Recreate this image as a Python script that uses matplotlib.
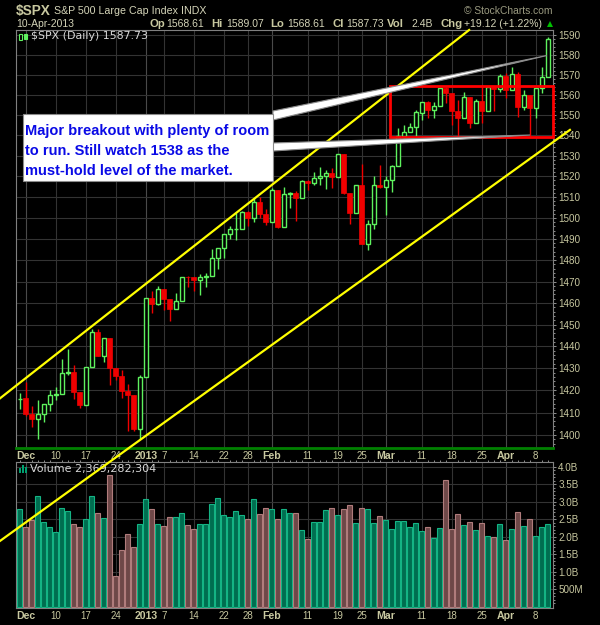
import matplotlib
matplotlib.use("Agg")
import matplotlib.pyplot as plt
import numpy as np
from matplotlib.patches import Rectangle, Polygon
from matplotlib.lines import Line2D
from matplotlib.ticker import FixedLocator, FuncFormatter, NullFormatter

# S&P 500 daily bars, 30-Nov-2012 .. 10-Apr-2013
dates = ["11-30",
         "12-03", "12-04", "12-05", "12-06", "12-07", "12-10", "12-11", "12-12", "12-13", "12-14",
         "12-17", "12-18", "12-19", "12-20", "12-21", "12-24", "12-26", "12-27", "12-28", "12-31",
         "01-02", "01-03", "01-04", "01-07", "01-08", "01-09", "01-10", "01-11", "01-14", "01-15",
         "01-16", "01-17", "01-18", "01-22", "01-23", "01-24", "01-25", "01-28", "01-29", "01-30",
         "01-31",
         "02-01", "02-04", "02-05", "02-06", "02-07", "02-08", "02-11", "02-12", "02-13", "02-14",
         "02-15", "02-19", "02-20", "02-21", "02-22", "02-25", "02-26", "02-27", "02-28",
         "03-01", "03-04", "03-05", "03-06", "03-07", "03-08", "03-11", "03-12", "03-13", "03-14",
         "03-15", "03-18", "03-19", "03-20", "03-21", "03-22", "03-25", "03-26", "03-27", "03-28",
         "04-01", "04-02", "04-03", "04-04", "04-05", "04-08", "04-09", "04-10"]

opens = [1415.95,
         1416.34, 1409.46, 1407.05, 1409.43, 1413.95, 1418.07, 1418.55, 1427.84, 1428.48, 1419.45,
         1413.54, 1430.47, 1446.79, 1435.81, 1443.67, 1430.15, 1426.66, 1419.83, 1418.10, 1402.43,
         1426.19, 1462.42, 1459.37, 1466.47, 1461.89, 1457.15, 1461.02, 1472.12, 1472.05, 1470.67,
         1472.33, 1472.63, 1480.95, 1485.98, 1492.56, 1494.81, 1494.82, 1502.96, 1500.18, 1507.84,
         1501.96,
         1498.11, 1513.17, 1495.71, 1511.29, 1512.12, 1509.39, 1517.93, 1517.01, 1519.43, 1520.33,
         1521.38, 1519.79, 1530.94, 1511.95, 1502.42, 1515.60, 1487.85, 1496.94, 1515.99,
         1514.68, 1518.20, 1525.20, 1539.79, 1541.46, 1544.26, 1551.15, 1556.22, 1552.48, 1554.52,
         1563.21, 1560.70, 1552.10, 1548.34, 1558.71, 1545.90, 1556.89, 1551.69, 1563.75, 1562.86,
         1569.18, 1562.17, 1570.25, 1553.69, 1559.98, 1553.26, 1563.11, 1568.61]
highs = [1418.86,
         1423.73, 1413.14, 1415.56, 1413.95, 1420.34, 1421.64, 1434.27, 1438.59, 1431.36, 1419.45,
         1430.67, 1448.00, 1447.75, 1443.70, 1443.67, 1430.15, 1429.42, 1422.80, 1418.10, 1426.74,
         1462.43, 1465.47, 1467.94, 1466.47, 1461.89, 1464.73, 1472.30, 1472.75, 1472.05, 1473.31,
         1473.96, 1485.16, 1485.98, 1492.56, 1496.13, 1502.27, 1503.26, 1503.23, 1509.35, 1509.94,
         1504.19,
         1514.41, 1513.17, 1514.96, 1512.53, 1512.90, 1518.31, 1518.31, 1522.29, 1524.69, 1523.14,
         1524.24, 1530.94, 1530.94, 1511.95, 1515.64, 1525.84, 1498.99, 1520.08, 1525.34,
         1519.99, 1525.27, 1543.47, 1545.25, 1545.78, 1552.48, 1556.27, 1556.77, 1556.39, 1563.32,
         1563.62, 1560.70, 1557.25, 1561.56, 1558.71, 1557.74, 1564.91, 1563.95, 1564.07, 1570.28,
         1570.57, 1573.66, 1571.47, 1562.29, 1559.98, 1563.07, 1573.89, 1589.07]
lows = [1411.63,
        1408.46, 1403.65, 1398.23, 1405.93, 1410.90, 1415.64, 1418.55, 1426.76, 1416.00, 1411.88,
        1413.54, 1430.47, 1435.80, 1432.82, 1422.58, 1424.66, 1416.43, 1401.80, 1401.58, 1398.11,
        1426.19, 1455.53, 1458.99, 1456.62, 1451.64, 1457.15, 1461.02, 1467.58, 1465.69, 1463.76,
        1467.60, 1472.63, 1475.81, 1481.16, 1489.90, 1489.46, 1494.82, 1496.33, 1498.09, 1500.11,
        1496.76,
        1498.11, 1495.02, 1495.71, 1504.71, 1498.49, 1509.39, 1513.61, 1515.61, 1515.93, 1514.02,
        1514.14, 1519.79, 1511.41, 1497.29, 1502.42, 1487.85, 1485.01, 1494.88, 1514.46,
        1501.48, 1512.29, 1525.20, 1538.11, 1541.46, 1539.63, 1547.36, 1548.24, 1548.25, 1554.52,
        1555.74, 1545.13, 1538.57, 1548.34, 1543.55, 1545.90, 1546.22, 1551.69, 1551.90, 1561.08,
        1558.47, 1562.17, 1549.07, 1552.52, 1539.50, 1548.63, 1560.92, 1568.61]
closes = [1416.18,
          1409.46, 1407.05, 1409.28, 1413.94, 1418.07, 1418.55, 1427.84, 1428.48, 1419.45, 1413.58,
          1430.36, 1446.79, 1435.81, 1443.69, 1430.15, 1426.66, 1419.83, 1418.10, 1402.43, 1426.19,
          1462.42, 1459.37, 1466.47, 1461.89, 1457.15, 1461.02, 1472.12, 1472.05, 1470.68, 1472.34,
          1472.63, 1480.94, 1485.98, 1492.56, 1494.81, 1494.82, 1502.96, 1500.18, 1507.84, 1501.96,
          1498.11,
          1513.17, 1495.71, 1511.29, 1512.12, 1509.39, 1517.93, 1517.01, 1519.43, 1520.33, 1521.38,
          1519.79, 1530.94, 1511.95, 1502.42, 1515.60, 1487.85, 1496.94, 1515.99, 1514.68,
          1518.20, 1525.20, 1539.79, 1541.46, 1544.26, 1551.18, 1556.22, 1552.48, 1554.52, 1563.23,
          1560.70, 1552.10, 1548.34, 1558.71, 1545.80, 1556.89, 1551.69, 1563.77, 1562.85, 1569.19,
          1562.17, 1570.25, 1553.69, 1559.98, 1553.28, 1563.07, 1568.61, 1587.73]
prev_close = 1415.95  # 29-Nov-2012

# volume, billions of shares
volumes = [2.79,
           2.27, 2.48, 3.17, 2.42, 2.27, 2.14, 2.81, 2.73, 2.38, 2.27,
           2.50, 3.17, 2.68, 2.53, 3.77, 0.88, 1.62, 2.08, 1.70, 2.37,
           3.07, 2.79, 2.38, 2.31, 2.56, 2.56, 2.67, 2.33, 2.21, 2.37,
           2.38, 2.94, 3.10, 2.62, 2.56, 2.73, 2.62, 2.50, 3.07, 2.65,
           2.81,
           2.79, 2.50, 2.79, 2.67, 2.67, 2.20, 1.94, 2.42, 2.42, 2.77,
           2.81, 2.62, 2.79, 2.91, 2.39, 2.81, 2.79, 2.39, 2.59,
           2.48, 2.23, 2.45, 2.45, 2.28, 2.39, 2.18, 2.28, 1.97, 2.25,
           3.62, 2.23, 2.65, 2.33, 2.42, 2.20, 2.39, 2.02, 1.99, 2.37,
           1.91, 2.23, 2.71, 2.31, 2.50, 2.02, 2.28, 2.37]

tick_dates = ["12-03", "12-10", "12-17", "12-24", "01-02", "01-07", "01-14", "01-22", "01-28",
              "02-01", "02-11", "02-19", "02-25", "03-01", "03-11", "03-18", "03-25", "04-01", "04-08"]
tick_labels = ["Dec", "10", "17", "24", "2013", "7", "14", "22", "28",
               "Feb", "11", "19", "25", "Mar", "11", "18", "25", "Apr", "8"]
month_labels = ["Dec", "2013", "Feb", "Mar", "Apr"]

price_ticks = list(range(1400, 1600, 10))
vol_ticks = [0.5, 1.0, 1.5, 2.0, 2.5, 3.0, 3.5, 4.0]
vol_tick_labels = ["500M", "1.0B", "1.5B", "2.0B", "2.5B", "3.0B", "3.5B", "4.0B"]

# hand-drawn annotations (date index, price)
upper_channel = ([-3.28, 74.9], [1416.4, 1592.4])
lower_channel = ([-3.28, 91.7], [1353.6, 1542.6])
range_box = (61.7, 88.8, 1539.3, 1564.5)
note = "Major breakout with plenty of room\nto run. Still watch 1538 as the\nmust-hold level of the market."

TAN = "#c8c8a0"
UP = "#5ef25e"
DOWN = "#f00000"
FONT = "Liberation Sans"

W, H = 600, 625
fig = plt.figure(figsize=(W / 100, H / 100), dpi=100, facecolor="black")


def fx(px):
    return px / W


def fy(py):
    return 1 - py / H


L, R = 16, 553
ax = fig.add_axes([fx(L), fy(448), (R - L) / W, (448 - 30) / H])
axv = fig.add_axes([fx(L), fy(608), (R - L) / W, (608 - 462) / H])

x = np.arange(len(dates))
o = np.array(opens)
h = np.array(highs)
lo = np.array(lows)
c = np.array(closes)
prev = np.r_[prev_close, c[:-1]]
up = c >= prev
cols = [UP if u else DOWN for u in up]

# ---- price panel
ax.set_facecolor("black")
ax.set_yscale("log")
ax.set_xlim(-0.617, 88.88)
ax.set_ylim(1394.2, 1592.4)

ax.vlines(x, lo, h, colors=cols, lw=1.0, zorder=3)
for i in x:
    bottom = min(o[i], c[i])
    height = max(abs(c[i] - o[i]), 0.15)
    if c[i] >= o[i]:
        ax.add_patch(Rectangle((i - 0.36, bottom), 0.72, height, facecolor="black",
                               edgecolor=cols[i], lw=1.0, zorder=4))
    else:
        ax.add_patch(Rectangle((i - 0.44, bottom), 0.88, height, facecolor=cols[i],
                               edgecolor=cols[i], lw=0.5, zorder=4))

ax.yaxis.tick_right()
ax.yaxis.set_major_locator(FixedLocator(price_ticks))
ax.yaxis.set_major_formatter(FuncFormatter(lambda v, p: "%d" % round(v)))
ax.yaxis.set_minor_locator(FixedLocator(np.arange(1396, 1592, 2)))
ax.yaxis.set_minor_formatter(NullFormatter())
ax.tick_params(axis="y", which="major", right=True, left=False, length=2.2, width=0.7,
               color="#909090", labelsize=7.1, labelcolor=TAN, pad=1.5)
ax.tick_params(axis="y", which="minor", right=True, left=False, length=1.2, width=0.7,
               color="#909090")

tick_pos = [dates.index(d) for d in tick_dates]
for a in (ax, axv):
    a.set_xticks(tick_pos)
    a.set_xticklabels(tick_labels)
    a.tick_params(axis="x", which="major", length=0, pad=2, labelsize=7, labelcolor=TAN)
    for lab in a.get_xticklabels():
        lab.set_fontfamily(FONT)
        if lab.get_text() in month_labels:
            lab.set_fontweight("bold")
            lab.set_fontsize(7.6)
    for lab in a.get_yticklabels():
        lab.set_fontfamily(FONT)
    a.grid(True, which="major", color="#333333", lw=0.8)
    for t, lab in zip(a.xaxis.get_major_ticks(), tick_labels):
        if lab in month_labels:
            t.gridline.set_color("#4a4a4a")
    for s in a.spines.values():
        s.set_color("#808080")
        s.set_linewidth(0.8)
    a.set_axisbelow(True)

ax.spines["bottom"].set_color("#008000")
ax.spines["bottom"].set_linewidth(2)

# ---- volume panel
axv.set_facecolor("black")
axv.set_xlim(-0.617, 88.88)
axv.set_ylim(-0.034, 4.137)
vfill = ["#006e50" if u else "#6e4848" for u in up]
vedge = ["#14b484" if u else "#b07c7c" for u in up]
axv.bar(x, volumes, width=0.84, color=vfill, edgecolor=vedge, lw=0.8, zorder=3)
axv.yaxis.tick_right()
axv.set_yticks(vol_ticks)
axv.set_yticklabels(vol_tick_labels)
axv.yaxis.set_minor_locator(FixedLocator(np.arange(0.1, 4.1, 0.1)))
axv.tick_params(axis="y", which="major", right=True, left=False, length=2.2, width=0.7,
                color="#909090", labelsize=7.1, labelcolor=TAN, pad=1.5)
axv.tick_params(axis="y", which="minor", right=True, left=False, length=1.2, width=0.7,
                color="#909090")
axv.xaxis.set_minor_locator(FixedLocator(x))
axv.tick_params(axis="x", which="minor", top=True, bottom=False, length=1.5, width=0.7,
                color="#909090")
for lab in axv.get_yticklabels():
    lab.set_fontfamily(FONT)

# ---- header
fig.text(fx(16), fy(10.5), "$SPX", fontsize=9.8, weight="bold", color=TAN, family=FONT, va="center")
fig.text(fx(53.5), fy(10.7), "S&P 500 Large Cap Index", fontsize=7.7, color="#d4d4b8", family=FONT, va="center")
fig.text(fx(180.5), fy(10.7), "INDX", fontsize=7.7, color="#d4d4b8", family=FONT, va="center")
fig.text(fx(553), fy(10.7), "\u00a9 StockCharts.com", fontsize=7.4, color="#9a9a80", family=FONT,
         va="center", ha="right")
fig.text(fx(16), fy(24), "10-Apr-2013", fontsize=7.5, color="#d4d4b8", family=FONT, va="center")
quote = [(149.3, "Op", True), (166.5, "1568.61", False), (211.3, "Hi", True), (225.8, "1589.07", False),
         (269.8, "Lo", True), (287.0, "1568.61", False), (332.2, "Cl", True), (346.3, "1587.73", False),
         (387.3, "Vol", True), (411.4, "2.4B", False), (440.1, "Chg", True),
         (463.8, "+19.12 (+1.22%)", False)]
for px, s, b in quote:
    fig.text(fx(px), fy(24), s, fontsize=8.2 if b else 7.5, weight="bold" if b else "normal",
             color=TAN if b else "#d4d4b8", family=FONT, va="center")
fig.add_artist(Line2D([fx(550)], [fy(24)], marker="^", markersize=5, color="#00c000",
                      markeredgewidth=0, transform=fig.transFigure))

# legends inside panels
fig.add_artist(Rectangle((fx(19), fy(40)), 3 / W, 6 / H, facecolor="black", edgecolor=UP,
                         lw=0.8, transform=fig.transFigure))
fig.add_artist(Rectangle((fx(24), fy(39)), 3 / W, 5 / H, facecolor=UP, edgecolor=UP,
                         lw=0.8, transform=fig.transFigure))
fig.text(fx(31), fy(36), "$SPX (Daily) 1587.73", fontsize=7.9, color="#d8d8d8",
         family="DejaVu Sans", va="center")
for k, hh in enumerate([5, 8, 6]):
    fig.add_artist(Rectangle((fx(19 + 3 * k), fy(473)), 2 / W, hh / H, facecolor="#00a070",
                             edgecolor="none", transform=fig.transFigure))
fig.text(fx(30.5), fy(469.3), "Volume 2,369,282,304", fontsize=8, color="#d8d8d8",
         family="DejaVu Sans", va="center")

# ---- annotations
for xs, ys in (upper_channel, lower_channel):
    fig.add_artist(Line2D(xs, ys, color="#ffff00", lw=1.6, transform=ax.transData, zorder=5))
x0, x1, y0, y1 = range_box
fig.add_artist(Rectangle((x0, y0), x1 - x0, y1 - y0, fill=False, edgecolor="#ff0000", lw=2.0,
                         transform=ax.transData, zorder=6))

for base_a, base_b, tip in (((273, 111), (273, 120), (547, 55.5)),
                            ((273, 143), (273, 151), (530, 135))):
    pts = [(fx(p[0]), fy(p[1])) for p in (base_a, tip, base_b)]
    fig.add_artist(Polygon(pts, closed=True, facecolor="white", edgecolor="#8c8c8c", lw=0.8,
                           transform=fig.transFigure, zorder=7))
fig.add_artist(Rectangle((fx(22.7), fy(180.7)), (273.3 - 22.7) / W, (180.7 - 114) / H,
                         facecolor="white", edgecolor="#8c8c8c", lw=0.8,
                         transform=fig.transFigure, zorder=8))
for k, line in enumerate(note.split("\n")):
    fig.text(fx(25), fy(134.6 + 20 * k), line, fontsize=10.5, weight="bold", color="#0a0ae6",
             family=FONT, va="baseline", zorder=9)

fig.savefig("out.png", dpi=100, facecolor="black")
